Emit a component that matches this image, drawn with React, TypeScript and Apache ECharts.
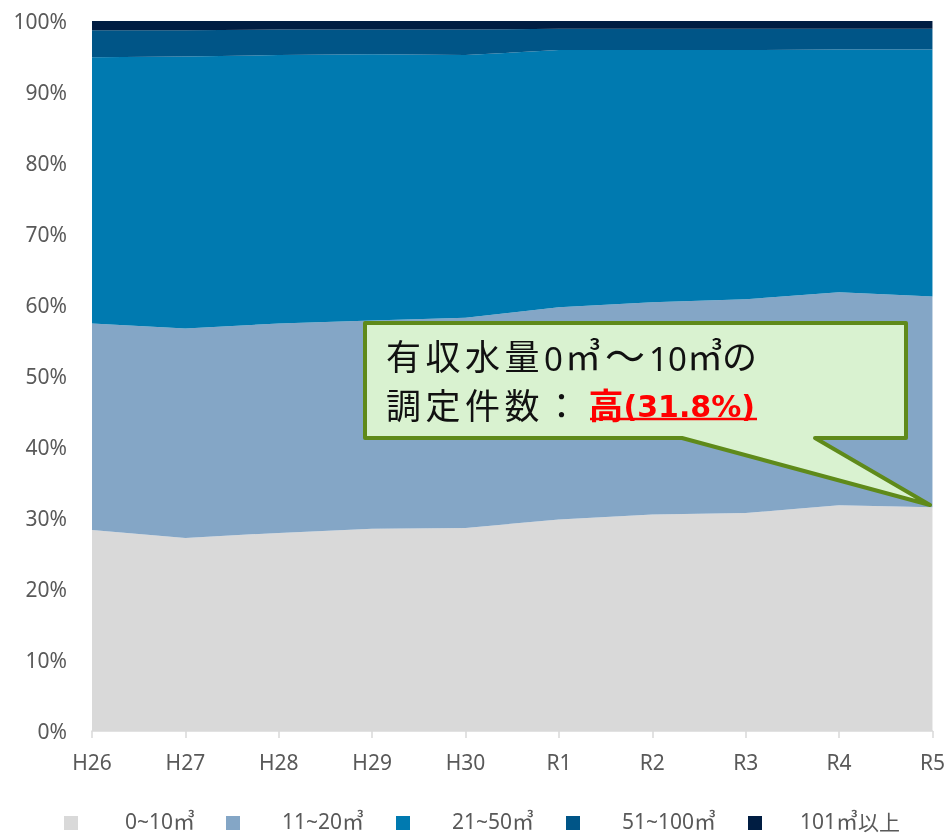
import React, { useEffect, useRef } from "react";
import * as echarts from "echarts";

const categories = ["H26", "H27", "H28", "H29", "H30", "R1", "R2", "R3", "R4", "R5"];
const seriesNames = ["0~10㎥", "11~20㎥", "21~50㎥", "51~100㎥", "101㎥以上"];
const s0to10 = [28.3, 27.2, 27.9, 28.5, 28.6, 29.8, 30.5, 30.7, 31.8, 31.5];
const s11to20 = [29.1, 29.5, 29.5, 29.3, 29.6, 29.9, 29.9, 30.1, 30.0, 29.7];
const s21to50 = [37.5, 38.3, 37.8, 37.5, 37.0, 36.2, 35.5, 35.1, 34.2, 34.8];
const s51to100 = [3.8, 3.7, 3.6, 3.5, 3.6, 3.0, 3.0, 3.0, 2.9, 2.9];
const s101plus = [1.3, 1.3, 1.2, 1.2, 1.2, 1.1, 1.1, 1.1, 1.1, 1.1];
const colors = ["#D9D9D9", "#84A6C6", "#007AB0", "#005587", "#001D42"];

export default function App() {
  const ref = useRef<HTMLDivElement>(null);
  useEffect(() => {
    if (!ref.current) return;
    const chart = echarts.init(ref.current, undefined, { renderer: "svg" });
    const data = [s0to10, s11to20, s21to50, s51to100, s101plus];
    const legendLeft = [64, 226, 396, 566, 748];
    const legendPad = [42, 37, 37, 37, 33];
    const font = "'Noto Sans', sans-serif";
    const cjk = "'Noto Sans CJK JP', sans-serif";
    const legendFmt = (name: string) => {
      const parts = name.split("㎥");
      let s = "{t|" + parts[0] + "}{u|㎥}";
      if (parts[1]) s += "{c|" + parts[1] + "}";
      return s;
    };
    const black = "#111111";
    const kch = (s: string) => s.split("").map((c) => "{k|" + c + "}").join("");
    const line1 = kch("有収水量") + "{d|0}{u|㎥}{w|～}{e|10}{v|㎥}{k|の}";
    const line2 = kch("調定件数：") + "{h|高}{r|(31.8%)}";
    chart.setOption({
      animation: false,
      grid: { left: 92, right: 15, top: 21, bottom: 106, containLabel: false },
      xAxis: {
        type: "category",
        data: categories,
        boundaryGap: false,
        axisLine: { show: true, lineStyle: { color: "#D9D9D9", width: 1.5 } },
        axisTick: { show: true, alignWithLabel: true, length: 7, lineStyle: { color: "#D9D9D9", width: 1.5 } },
        axisLabel: { color: "#595959", fontSize: 21, fontFamily: font, margin: 20 },
        splitLine: { show: false },
      },
      yAxis: {
        type: "value",
        min: 0,
        max: 100,
        interval: 10,
        axisLine: { show: false },
        axisTick: { show: false },
        splitLine: { show: false },
        axisLabel: { color: "#595959", fontSize: 21, fontFamily: font, margin: 25, formatter: "{value}%" },
      },
      legend: seriesNames.map((n, i) => ({
        data: [n],
        left: legendLeft[i],
        top: 808,
        itemWidth: 14,
        itemHeight: 14,
        icon: "rect",
        padding: 0,
        formatter: legendFmt,
        textStyle: {
          color: "#595959",
          fontSize: 21,
          lineHeight: 22,
          fontFamily: font,
          padding: [0, 0, 4, legendPad[i]],
          rich: {
            t: { fontSize: 21, lineHeight: 22, fontFamily: font, color: "#595959" },
            u: { fontSize: 22, lineHeight: 22, fontFamily: cjk, color: "#595959", padding: [0, 0, 4, 0] },
            c: { fontSize: 21, lineHeight: 22, fontFamily: cjk, color: "#595959" },
          },
        },
      })),
      series: seriesNames.map((n, i) => ({
        name: n,
        type: "line",
        stack: "total",
        data: data[i],
        symbol: "none",
        lineStyle: { width: 0 },
        itemStyle: { color: colors[i] },
        areaStyle: { color: colors[i], opacity: 1 },
      })),
      graphic: [
        {
          type: "polygon",
          z: 100,
          shape: {
            points: [
              [365, 323],
              [906, 323],
              [906, 438],
              [815, 438],
              [930, 505],
              [682, 438],
              [365, 438],
            ],
          },
          style: { fill: "#D9F2D0", stroke: "#5F8A1A", lineWidth: 4, lineJoin: "round" },
        },
        {
          type: "text",
          z: 101,
          x: 386,
          y: 354,
          style: {
            text: line1,
            verticalAlign: "middle",
            rich: {
              k: { fontSize: 35, fontFamily: cjk, fill: black, width: 39.5 },
              d: { fontSize: 33, fontFamily: font, fill: black, width: 21, padding: [8, 0, 0, 0] },
              e: { fontSize: 33, fontFamily: font, fill: black, width: 38, padding: [8, 0, 0, 0] },
              u: { fontSize: 36, fontFamily: cjk, fill: black, width: 40 },
              v: { fontSize: 36, fontFamily: cjk, fill: black, width: 35 },
              w: { fontSize: 40, fontFamily: cjk, fill: black, width: 44 },
            },
          },
        },
        {
          type: "text",
          z: 101,
          x: 386,
          y: 403,
          style: {
            text: line2,
            verticalAlign: "middle",
            rich: {
              k: { fontSize: 35, fontFamily: cjk, fill: black, width: 39.5 },
              h: { fontSize: 35, fontFamily: cjk, fontWeight: "bold", fill: "#FF0000", padding: [0, 0, 0, 5] },
              r: { fontSize: 30, fontFamily: "'DejaVu Sans', sans-serif", fontWeight: "bold", fill: "#FF0000", padding: [6, 0, 0, 0] },
            },
          },
        },
        {
          type: "line",
          z: 101,
          shape: { x1: 590, y1: 419, x2: 757, y2: 419 },
          style: { stroke: "#FF0000", lineWidth: 2.5 },
        },
      ],
    });
    return () => chart.dispose();
  }, []);
  return (
    <div
      ref={ref}
      style={{ position: "fixed", left: 0, top: 0, width: 948, height: 837 }}
    />
  );
}
